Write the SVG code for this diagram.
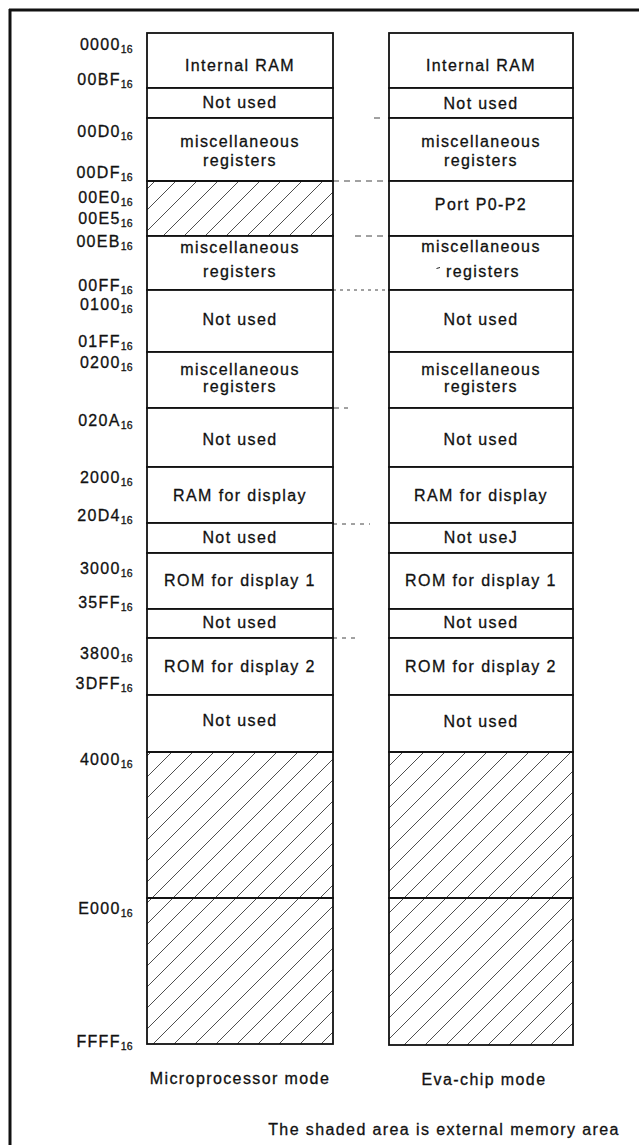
<svg xmlns="http://www.w3.org/2000/svg" width="639" height="1145" viewBox="0 0 639 1145">
<style>
.box{fill:#fff;stroke:#111;stroke-width:1.8}
.hat{fill:url(#hatch);stroke:#111;stroke-width:1.8}
.lbl{font-family:"Liberation Sans",Arial,sans-serif;font-size:16px;letter-spacing:1.4px;fill:#111;stroke:#111;stroke-width:0.3;text-anchor:middle}
.addr{font-family:"Liberation Sans",Arial,sans-serif;font-size:16px;letter-spacing:1.3px;fill:#111;stroke:#111;stroke-width:0.3;text-anchor:end}
.sub{font-size:10.5px;letter-spacing:0.3px}
.conn{stroke:#444;stroke-width:1;fill:none;stroke-dasharray:6 5}
.frame{stroke:#111;stroke-width:3;fill:none}
</style>
<defs>
<pattern id="hatch" patternUnits="userSpaceOnUse" width="21" height="21">
<path d="M-5,5 L5,-5 M0,21 L21,0 M16,26 L26,16" stroke="#222" stroke-width="0.8"/>
</pattern>
</defs>
<rect width="639" height="1145" fill="#fff"/>
<g id="frame">
<line class="frame" x1="9" y1="10" x2="639" y2="10"/>
<line class="frame" x1="10" y1="9" x2="10" y2="1145"/>
</g>
<g id="addresses">
<text class="addr" x="133" y="50">0000<tspan class="sub" dy="3">16</tspan></text>
<text class="addr" x="133" y="85">00BF<tspan class="sub" dy="3">16</tspan></text>
<text class="addr" x="133" y="137">00D0<tspan class="sub" dy="3">16</tspan></text>
<text class="addr" x="133" y="178">00DF<tspan class="sub" dy="3">16</tspan></text>
<text class="addr" x="133" y="203">00E0<tspan class="sub" dy="3">16</tspan></text>
<text class="addr" x="133" y="224">00E5<tspan class="sub" dy="3">16</tspan></text>
<text class="addr" x="133" y="247">00EB<tspan class="sub" dy="3">16</tspan></text>
<text class="addr" x="133" y="291">00FF<tspan class="sub" dy="3">16</tspan></text>
<text class="addr" x="133" y="310">0100<tspan class="sub" dy="3">16</tspan></text>
<text class="addr" x="133" y="347">01FF<tspan class="sub" dy="3">16</tspan></text>
<text class="addr" x="133" y="368">0200<tspan class="sub" dy="3">16</tspan></text>
<text class="addr" x="133" y="426">020A<tspan class="sub" dy="3">16</tspan></text>
<text class="addr" x="133" y="483">2000<tspan class="sub" dy="3">16</tspan></text>
<text class="addr" x="133" y="521">20D4<tspan class="sub" dy="3">16</tspan></text>
<text class="addr" x="133" y="574">3000<tspan class="sub" dy="3">16</tspan></text>
<text class="addr" x="133" y="608">35FF<tspan class="sub" dy="3">16</tspan></text>
<text class="addr" x="133" y="659">3800<tspan class="sub" dy="3">16</tspan></text>
<text class="addr" x="133" y="689">3DFF<tspan class="sub" dy="3">16</tspan></text>
<text class="addr" x="133" y="765">4000<tspan class="sub" dy="3">16</tspan></text>
<text class="addr" x="133" y="914">E000<tspan class="sub" dy="3">16</tspan></text>
<text class="addr" x="133" y="1047">FFFF<tspan class="sub" dy="3">16</tspan></text>
</g>
<g id="connectors">
<line class="conn" x1="374" y1="118" x2="382" y2="118"/>
<line class="conn" x1="333" y1="181" x2="389" y2="181"/>
<line class="conn" x1="355" y1="236" x2="389" y2="236"/>
<line class="conn" x1="333" y1="290" x2="389" y2="290" style="stroke-dasharray:3 4"/>
<line class="conn" x1="333" y1="408" x2="348" y2="408"/>
<line class="conn" x1="333" y1="524" x2="370" y2="524" style="stroke-dasharray:4 5"/>
<line class="conn" x1="333" y1="638" x2="360" y2="638" style="stroke-dasharray:4 5"/>
</g>
<g id="micro-mode">
<g id="m-internal-ram"><rect class="box" x="147" y="33" width="186" height="55"/><text class="lbl" x="240" y="71">Internal RAM</text></g>
<g id="m-notused-1"><rect class="box" x="147" y="88" width="186" height="30"/><text class="lbl" x="240" y="108">Not used</text></g>
<g id="m-misc-1"><rect class="box" x="147" y="118" width="186" height="63"/><text class="lbl" x="240" y="147">miscellaneous</text><text class="lbl" x="240" y="166">registers</text></g>
<g id="m-ext-1"><rect class="hat" x="147" y="181" width="186" height="55"/></g>
<g id="m-misc-2"><rect class="box" x="147" y="236" width="186" height="54"/><text class="lbl" x="240" y="253">miscellaneous</text><text class="lbl" x="240" y="277">registers</text></g>
<g id="m-notused-2"><rect class="box" x="147" y="290" width="186" height="62"/><text class="lbl" x="240" y="325">Not used</text></g>
<g id="m-misc-3"><rect class="box" x="147" y="352" width="186" height="56"/><text class="lbl" x="240" y="375">miscellaneous</text><text class="lbl" x="240" y="392">registers</text></g>
<g id="m-notused-3"><rect class="box" x="147" y="408" width="186" height="59"/><text class="lbl" x="240" y="445">Not used</text></g>
<g id="m-ram-display"><rect class="box" x="147" y="467" width="186" height="56"/><text class="lbl" x="240" y="501">RAM for display</text></g>
<g id="m-notused-4"><rect class="box" x="147" y="523" width="186" height="30"/><text class="lbl" x="240" y="543">Not used</text></g>
<g id="m-rom-1"><rect class="box" x="147" y="553" width="186" height="56"/><text class="lbl" x="240" y="586">ROM for display 1</text></g>
<g id="m-notused-5"><rect class="box" x="147" y="609" width="186" height="29"/><text class="lbl" x="240" y="628">Not used</text></g>
<g id="m-rom-2"><rect class="box" x="147" y="638" width="186" height="57"/><text class="lbl" x="240" y="672">ROM for display 2</text></g>
<g id="m-notused-6"><rect class="box" x="147" y="695" width="186" height="57"/><text class="lbl" x="240" y="726">Not used</text></g>
<g id="m-ext-2"><rect class="hat" x="147" y="752" width="186" height="146"/></g>
<g id="m-ext-3"><rect class="hat" x="147" y="898" width="186" height="146"/></g>
<text class="lbl" x="240" y="1084">Microprocessor mode</text>
</g>
<g id="eva-mode">
<g id="e-internal-ram"><rect class="box" x="389" y="33" width="184" height="55"/><text class="lbl" x="481" y="71">Internal RAM</text></g>
<g id="e-notused-1"><rect class="box" x="389" y="88" width="184" height="30"/><text class="lbl" x="481" y="109">Not used</text></g>
<g id="e-misc-1"><rect class="box" x="389" y="118" width="184" height="63"/><text class="lbl" x="481" y="147">miscellaneous</text><text class="lbl" x="481" y="166">registers</text></g>
<g id="e-port"><rect class="box" x="389" y="181" width="184" height="55"/><text class="lbl" x="481" y="210">Port P0-P2</text></g>
<g id="e-misc-2"><rect class="box" x="389" y="236" width="184" height="54"/><text class="lbl" x="481" y="252">miscellaneous</text><text class="lbl" x="483" y="277">registers</text><line x1="436.5" y1="268.5" x2="440" y2="267.5" stroke="#222" stroke-width="1"/></g>
<g id="e-notused-2"><rect class="box" x="389" y="290" width="184" height="62"/><text class="lbl" x="481" y="325">Not used</text></g>
<g id="e-misc-3"><rect class="box" x="389" y="352" width="184" height="56"/><text class="lbl" x="481" y="375">miscellaneous</text><text class="lbl" x="481" y="392">registers</text></g>
<g id="e-notused-3"><rect class="box" x="389" y="408" width="184" height="59"/><text class="lbl" x="481" y="445">Not used</text></g>
<g id="e-ram-display"><rect class="box" x="389" y="467" width="184" height="56"/><text class="lbl" x="481" y="501">RAM for display</text></g>
<g id="e-notused-4"><rect class="box" x="389" y="523" width="184" height="30"/><text class="lbl" x="481" y="543">Not useJ</text></g>
<g id="e-rom-1"><rect class="box" x="389" y="553" width="184" height="56"/><text class="lbl" x="481" y="586">ROM for display 1</text></g>
<g id="e-notused-5"><rect class="box" x="389" y="609" width="184" height="29"/><text class="lbl" x="481" y="628">Not used</text></g>
<g id="e-rom-2"><rect class="box" x="389" y="638" width="184" height="57"/><text class="lbl" x="481" y="672">ROM for display 2</text></g>
<g id="e-notused-6"><rect class="box" x="389" y="695" width="184" height="57"/><text class="lbl" x="481" y="727">Not used</text></g>
<g id="e-ext-2"><rect class="hat" x="389" y="752" width="184" height="146"/></g>
<g id="e-ext-3"><rect class="hat" x="389" y="898" width="184" height="147"/></g>
<text class="lbl" x="484" y="1085">Eva-chip mode</text>
</g>
<text class="lbl" x="444" y="1135">The shaded area is external memory area</text>
</svg>
